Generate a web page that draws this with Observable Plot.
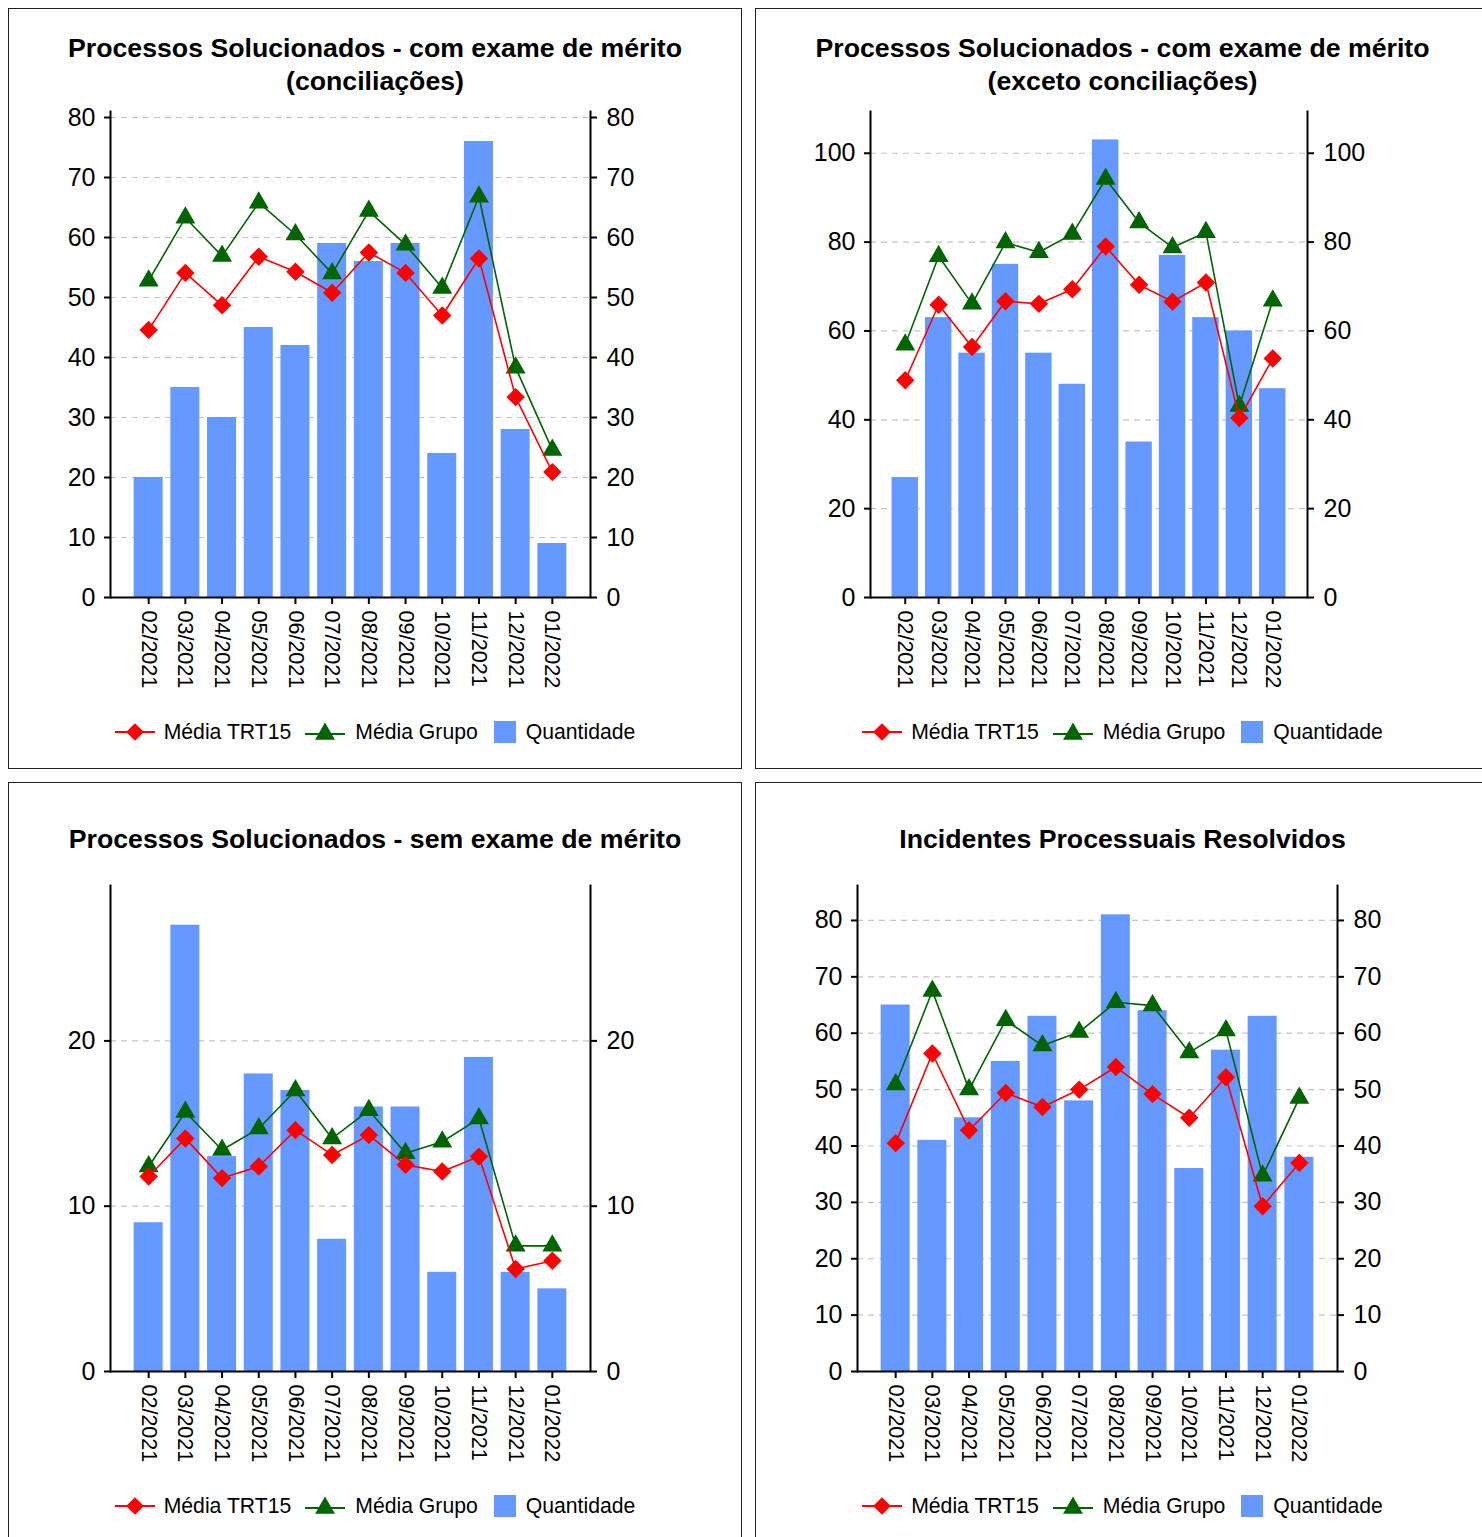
<!DOCTYPE html>
<html><head><meta charset="utf-8">
<script src="https://cdn.jsdelivr.net/npm/d3@7"></script>
<script src="https://cdn.jsdelivr.net/npm/@observablehq/plot@0.6"></script>
<style>
body{margin:0;background:#fff;font-family:"Liberation Sans",Arial,sans-serif;}
#page{position:relative;width:1482px;height:1537px;overflow:hidden;background:#fff;}
.panel{position:absolute;box-sizing:border-box;border:1px solid #222;background:#fff;}
.title{position:absolute;left:0;right:0;top:23px;height:66px;display:flex;align-items:center;justify-content:center;text-align:center;font-weight:bold;font-size:26.7px;line-height:33px;color:#000;white-space:pre;}
.legend{position:absolute;left:0;right:0;top:711px;height:24px;display:flex;justify-content:center;align-items:center;font-size:21.2px;color:#000;}
.legend .item{display:flex;align-items:center;}
.legend svg{display:block;}
</style></head><body><div id="page"></div>
<script>
// ---- data ----
const months = ["02/2021","03/2021","04/2021","05/2021","06/2021","07/2021","08/2021","09/2021","10/2021","11/2021","12/2021","01/2022"];

const titles = [
  "Processos Solucionados - com exame de mérito\n(conciliações)",
  "Processos Solucionados - com exame de mérito\n(exceto conciliações)",
  "Processos Solucionados - sem exame de mérito",
  "Incidentes Processuais Resolvidos"
];

const seriesNames = ["Média TRT15", "Média Grupo", "Quantidade"];

// Panel 1 – com exame de mérito (conciliações)
const qtd1   = [20, 35, 30, 45, 42, 59, 56, 59, 24, 76, 28, 9];
const trt1   = [44.6, 54.1, 48.7, 56.8, 54.3, 50.8, 57.5, 54.1, 47.0, 56.5, 33.4, 20.9];
const grupo1 = [52.8, 63.3, 56.9, 65.8, 60.5, 54.0, 64.4, 58.8, 51.6, 66.8, 38.3, 24.6];

// Panel 2 – com exame de mérito (exceto conciliações)
const qtd2   = [27, 63, 55, 75, 55, 48, 103, 35, 77, 63, 60, 47];
const trt2   = [48.9, 65.9, 56.4, 66.7, 66.1, 69.4, 79.0, 70.4, 66.6, 70.9, 40.4, 53.8];
const grupo2 = [56.9, 76.8, 66.1, 79.9, 77.7, 81.8, 94.2, 84.4, 78.8, 82.2, 43.1, 66.8];

// Panel 3 – sem exame de mérito
const qtd3   = [9, 27, 13, 18, 17, 8, 16, 16, 6, 19, 6, 5];
const trt3   = [11.8, 14.1, 11.7, 12.4, 14.6, 13.1, 14.3, 12.5, 12.1, 13.0, 6.2, 6.7];
const grupo3 = [12.4, 15.7, 13.4, 14.7, 17.0, 14.1, 15.8, 13.2, 13.9, 15.3, 7.6, 7.6];

// Panel 4 – Incidentes Processuais Resolvidos
const qtd4   = [65, 41, 45, 55, 63, 48, 81, 64, 36, 57, 63, 38];
const trt4   = [40.5, 56.4, 42.8, 49.4, 46.9, 50.0, 54.0, 49.2, 45.0, 52.2, 29.3, 37.0];
const grupo4 = [50.9, 67.5, 50.0, 62.3, 57.8, 60.2, 65.5, 64.9, 56.6, 60.5, 34.7, 48.5];

// y tick labels
const ticks1 = [0, 10, 20, 30, 40, 50, 60, 70, 80];
const ticks2 = [0, 20, 40, 60, 80, 100];
const ticks3 = [0, 10, 20];
const ticks4 = [0, 10, 20, 30, 40, 50, 60, 70, 80];

// ---- layout / style ----
const colors = {trt: "#ff0000", grupo: "#006400", qtd: "#6699ff"};
const layout = [
  {left: 8,   top: 8,   w: 734, h: 761, ml: 101, mr: 151, ymax: 81,    ticks: ticks1, q: qtd1, t: trt1, g: grupo1},
  {left: 755, top: 8,   w: 735, h: 761, ml: 114, mr: 182, ymax: 109.4, ticks: ticks2, q: qtd2, t: trt2, g: grupo2},
  {left: 8,   top: 782, w: 734, h: 762, ml: 101, mr: 151, ymax: 29.4,  ticks: ticks3, q: qtd3, t: trt3, g: grupo3},
  {left: 755, top: 782, w: 735, h: 762, ml: 101, mr: 152, ymax: 86.2,  ticks: ticks4, q: qtd4, t: trt4, g: grupo4}
];

const page = document.getElementById("page");
const FONT = "'Liberation Sans', Arial, sans-serif";

layout.forEach((L, i) => {
  const data = months.map((m, k) => ({m, q: L.q[k], t: L.t[k], g: L.g[k]}));
  const panel = document.createElement("div");
  panel.className = "panel";
  Object.assign(panel.style, {left: L.left + "px", top: L.top + "px", width: L.w + "px", height: L.h + "px"});
  page.appendChild(panel);

  const title = document.createElement("div");
  title.className = "title";
  title.textContent = titles[i];
  panel.appendChild(title);

  const W = L.w - 2;
  const chart = Plot.plot({
    width: W,
    height: 606,
    marginTop: 10,
    marginBottom: 110,
    marginLeft: L.ml,
    marginRight: L.mr,
    style: {fontFamily: FONT, fontSize: "21px", color: "#000", background: "transparent", overflow: "visible"},
    x: {type: "band", domain: months, paddingInner: 0.21, paddingOuter: 0.645, round: false, label: null},
    y: {domain: [0, L.ymax], label: null},
    marks: [
      Plot.gridY({ticks: L.ticks, stroke: "#c4c4c4", strokeOpacity: 1, strokeDasharray: "6,5", strokeWidth: 1.2}),
      Plot.barY(data, {x: "m", y: "q", fill: colors.qtd}),
      Plot.ruleY([0], {stroke: "#000", strokeWidth: 2}),
      Plot.frame({anchor: "left", stroke: "#000", strokeWidth: 2}),
      Plot.frame({anchor: "right", stroke: "#000", strokeWidth: 2}),
      Plot.axisY({ticks: L.ticks, anchor: "left", tickSize: 6, tickPadding: 9, fontSize: 25, label: null, strokeWidth: 2}),
      Plot.axisY({ticks: L.ticks, anchor: "right", tickSize: 6, tickPadding: 10, fontSize: 25, label: null, strokeWidth: 2}),
      Plot.axisX({anchor: "bottom", tickSize: 7, tickPadding: 6, tickRotate: 90, fontSize: 21.5, label: null, strokeWidth: 2}),
      Plot.line(data, {x: "m", y: "g", stroke: colors.grupo, strokeWidth: 1.6}),
      Plot.dot(data, {x: "m", y: "g", symbol: "triangle", fill: colors.grupo, r: 7.4}),
      Plot.line(data, {x: "m", y: "t", stroke: colors.trt, strokeWidth: 1.6}),
      Plot.dot(data, {x: "m", y: "t", symbol: "diamond2", fill: colors.trt, r: 8.3})
    ]
  });
  chart.style.position = "absolute";
  chart.style.left = "0px";
  chart.style.top = "92px";
  panel.appendChild(chart);

  // legend
  const legend = d3.select(panel).append("div").attr("class", "legend");
  const it1 = legend.append("div").attr("class", "item");
  const s1 = it1.append("svg").attr("width", 40).attr("height", 22);
  s1.append("line").attr("x1", 0).attr("x2", 40).attr("y1", 11).attr("y2", 11).attr("stroke", colors.trt).attr("stroke-width", 2);
  s1.append("path").attr("d", d3.symbol(d3.symbolDiamond2, 200)()).attr("transform", "translate(20,11)").attr("fill", colors.trt);
  it1.append("span").style("margin-left", "9px").text(seriesNames[0]);
  const it2 = legend.append("div").attr("class", "item").style("margin-left", "14px");
  const s2 = it2.append("svg").attr("width", 40).attr("height", 22);
  s2.append("line").attr("x1", 0).attr("x2", 40).attr("y1", 13).attr("y2", 13).attr("stroke", colors.grupo).attr("stroke-width", 2);
  s2.append("path").attr("d", d3.symbol(d3.symbolTriangle, 170)()).attr("transform", "translate(20,13)").attr("fill", colors.grupo);
  it2.append("span").style("margin-left", "10px").text(seriesNames[1]);
  const it3 = legend.append("div").attr("class", "item").style("margin-left", "16px");
  const s3 = it3.append("svg").attr("width", 22).attr("height", 22);
  s3.append("rect").attr("width", 22).attr("height", 22).attr("fill", colors.qtd);
  it3.append("span").style("margin-left", "10px").text(seriesNames[2]);
});
</script>
</body></html>
